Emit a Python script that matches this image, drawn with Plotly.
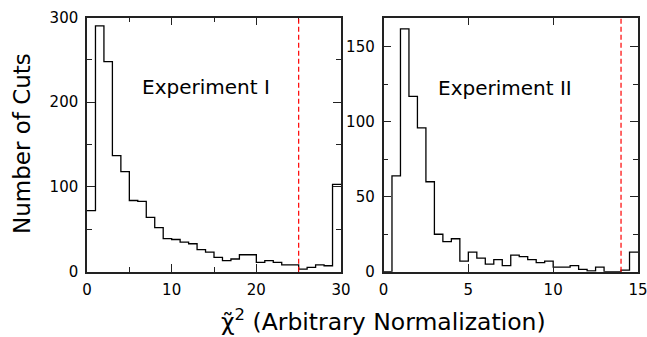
import plotly.graph_objects as go

# Experiment I: 30 bins of width 1 on [0, 30]
exp1_edges = list(range(0, 31))
exp1_counts = [72, 290, 248, 137, 118, 84, 83, 64, 52, 39,
               38, 35, 33, 26, 23, 17, 13, 15, 20, 20,
               11, 13, 11, 8, 8, 3, 5, 8, 7, 103]
# Experiment II: 30 bins of width 0.5 on [0, 15]
exp2_edges = [i * 0.5 for i in range(0, 31)]
exp2_counts = [0, 64, 162, 117, 96, 60, 25, 20, 22, 7,
               13, 9, 5, 8, 4, 11, 10, 8, 6, 7,
               3, 3, 4, 1.5, 0.5, 3, 0, 0, 1, 13]
cut1 = 25
cut2 = 14

x1_ticks = [0, 10, 20, 30]
y1_ticks = [0, 100, 200, 300]
x2_ticks = [0, 5, 10, 15]
y2_ticks = [0, 50, 100, 150]

W, H = 647, 337
FONT = "DejaVu Sans"


def step_xy(edges, counts):
    xs = list(edges)
    ys = list(counts) + [counts[-1]]
    return xs, ys


fig = go.Figure()
x, y = step_xy(exp1_edges, exp1_counts)
fig.add_trace(go.Scatter(x=x, y=y, mode="lines", line=dict(shape="hv", color="black", width=1.3),
                         xaxis="x", yaxis="y", showlegend=False, hoverinfo="skip"))
x, y = step_xy(exp2_edges, exp2_counts)
fig.add_trace(go.Scatter(x=x, y=y, mode="lines", line=dict(shape="hv", color="black", width=1.3),
                         xaxis="x2", yaxis="y2", showlegend=False, hoverinfo="skip"))

ax_common = dict(showline=True, linecolor="#222", linewidth=1.5, mirror="ticks",
                 ticks="inside", ticklen=8, tickwidth=1.2, tickcolor="#222",
                 showgrid=False, zeroline=False, automargin=False,
                 ticklabeloverflow="allow",
                 tickfont=dict(family=FONT, size=15, color="black"))

d1 = [87 / W, 341 / W]
d2 = [383.5 / W, 638 / W]
dy = [1 - 271.7 / H, 1 - 17.5 / H]

fig.update_layout(
    width=W, height=H, margin=dict(l=0, r=0, t=0, b=0, autoexpand=False),
    paper_bgcolor="white", plot_bgcolor="white",
    xaxis=dict(domain=d1, range=[0, 30], tickvals=x1_ticks, anchor="y",
               minor=dict(dtick=5, ticklen=5, ticks="inside", tickcolor="#222"),
               ticklabelstandoff=4, **ax_common),
    yaxis=dict(domain=dy, range=[0, 300], tickvals=y1_ticks, anchor="x",
               minor=dict(dtick=50, ticklen=5, ticks="inside", tickcolor="#222"),
               ticklabelstandoff=4, **ax_common),
    xaxis2=dict(domain=d2, range=[0, 15], tickvals=x2_ticks, anchor="y2",
                ticklabelstandoff=4, **ax_common),
    yaxis2=dict(domain=dy, range=[0, 169.6], tickvals=y2_ticks, anchor="x2",
                minor=dict(dtick=25, ticklen=5, ticks="inside", tickcolor="#222"),
                ticklabelstandoff=4, **ax_common),
    font=dict(family=FONT, color="black"),
)

fig.add_shape(type="line", xref="x", yref="y domain", x0=cut1, x1=cut1, y0=0, y1=1,
              line=dict(color="red", width=1.2, dash="5px,3px"))
fig.add_shape(type="line", xref="x2", yref="y2 domain", x0=cut2, x1=cut2, y0=0, y1=1,
              line=dict(color="red", width=1.2, dash="5px,3px"))

fig.add_annotation(text="Experiment I", x=206 / W, y=1 - 87 / H, xref="paper", yref="paper",
                   showarrow=False, font=dict(family=FONT, size=20), xanchor="center", yanchor="middle")
fig.add_annotation(text="Experiment II", x=505 / W, y=1 - 87.5 / H, xref="paper", yref="paper",
                   showarrow=False, font=dict(family=FONT, size=20), xanchor="center", yanchor="middle")
fig.add_annotation(text="Number of Cuts", x=22 / W, y=1 - 144 / H, xref="paper", yref="paper",
                   showarrow=False, textangle=-90, font=dict(family=FONT, size=23),
                   xanchor="center", yanchor="middle")
fig.add_annotation(text="\u03c7\u0303<sup>2</sup> (Arbitrary Normalization)", x=383 / W, y=1 - 320 / H,
                   xref="paper", yref="paper", showarrow=False, font=dict(family=FONT, size=23.5),
                   xanchor="center", yanchor="middle")

fig.write_html("out.html")
